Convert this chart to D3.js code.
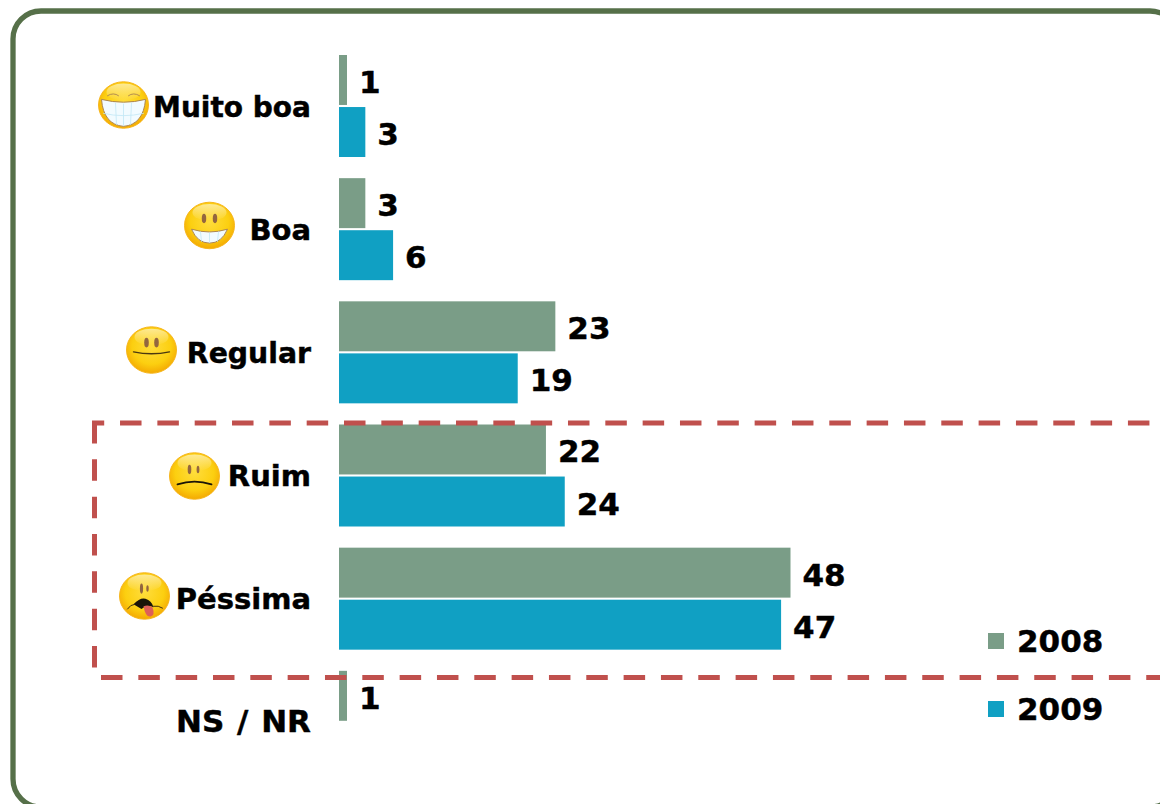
<!DOCTYPE html>
<html><head><meta charset="utf-8">
<script src="https://cdn.jsdelivr.net/npm/d3@7"></script>
<style>html,body{margin:0;padding:0;background:#fff;overflow:hidden}svg{display:block}text{font-family:"DejaVu Sans",sans-serif;font-weight:bold;fill:#000;stroke:#000;stroke-width:.45px}</style>
</head><body><div id="chart"></div>
<script>
const categories = ["Muito boa","Boa","Regular","Ruim","Péssima","NS / NR"];
const seriesNames = ["2008","2009"];
const values2008 = [0.85,2.8,23,22,48,0.85];
const values2009 = [2.8,5.75,19,24,47,null];
const labels2008 = [1,3,23,22,48,1];
const labels2009 = [3,6,19,24,47,null];
const faces = ["grin","smile","neutral","sad","awful",null];
const colors = {"2008":"#7a9d87","2009":"#10a0c3"};

const W=1160,H=804;
const svg=d3.select("#chart").append("svg").attr("width",W).attr("height",H);
const defs=svg.append("defs");
const g=defs.append("radialGradient").attr("id","face").attr("cx","50%").attr("cy","42%").attr("r","62%");
g.append("stop").attr("offset","0%").attr("stop-color","#ffdd3c");
g.append("stop").attr("offset","62%").attr("stop-color","#fccf10");
g.append("stop").attr("offset","100%").attr("stop-color","#f2a200");
const hl=defs.append("linearGradient").attr("id","hl").attr("x1",0).attr("y1",0).attr("x2",0).attr("y2",1);
hl.append("stop").attr("offset","0%").attr("stop-color","#fff").attr("stop-opacity",.55);
hl.append("stop").attr("offset","100%").attr("stop-color","#fff").attr("stop-opacity",0);

svg.append("rect").attr("x",13).attr("y",11).attr("width",1165).attr("height",796).attr("rx",28).attr("ry",28)
  .attr("fill","#fff").attr("stroke","#567049").attr("stroke-width",5.3);

const x=d3.scaleLinear().domain([0,48]).range([339,790.5]);
const y=d3.scaleBand().domain(categories).range([55,794]).paddingInner(0).paddingOuter(0);
const y1=d3.scaleBand().domain(seriesNames).range([0,102]).paddingInner(0.04);

const rows=categories.map((c,i)=>({c,i,s:[{k:"2008",v:values2008[i],l:labels2008[i]},{k:"2009",v:values2009[i],l:labels2009[i]}]}));
const row=svg.selectAll("g.row").data(rows).join("g").attr("class","row").attr("transform",d=>`translate(0,${y(d.c)})`);
row.selectAll("rect").data(d=>d.s.filter(e=>e.v!=null)).join("rect")
  .attr("x",x(0)).attr("y",e=>y1(e.k)).attr("width",e=>x(e.v)-x(0)).attr("height",y1.bandwidth()).attr("fill",e=>colors[e.k]);
row.selectAll("text.val").data(d=>d.s.filter(e=>e.v!=null)).join("text").attr("class","val")
  .attr("x",e=>x(e.v)+12).attr("y",e=>y1(e.k)+y1.bandwidth()/2+13).attr("font-size",31).text(e=>e.l);
const catFont={"Muito boa":28,"Regular":28.3,"NS / NR":31};
row.append("text").attr("class","cat").attr("x",311).attr("y",61.5).attr("text-anchor","end")
  .attr("font-size",d=>catFont[d.c]||29).attr("word-spacing",d=>d.c==="NS / NR"?2:0).text(d=>d.c);

function drawFace(sel,type){
  sel.append("circle").attr("r",25).attr("fill","url(#face)").attr("stroke","#f6b41a").attr("stroke-width",1);
  sel.append("ellipse").attr("cx",0).attr("cy",-14).attr("rx",17).attr("ry",9).attr("fill","url(#hl)");
  const eye=(ex,ey,rx,ry)=>sel.append("ellipse").attr("cx",ex).attr("cy",ey).attr("rx",rx).attr("ry",ry).attr("fill","#93663f");
  const teeth=(d)=>{sel.append("path").attr("d",d).attr("fill","#f2fbff").attr("stroke","#a9824f").attr("stroke-width",1);};
  const line=(d,w,c)=>sel.append("path").attr("d",d).attr("fill","none").attr("stroke",c||"#4a3810").attr("stroke-width",w).attr("stroke-linecap","round");
  if(type==="grin"){
    teeth("M-22,-6 Q0,0 22,-6 Q20,21 0,23 Q-20,21 -22,-6Z");
    line("M-8,-2 L-7,21 M8,-2 L7,21 M-20,9 Q0,14 20,9 M0,-1 L0,22",0.8,"#bfe6f5");
    line("M-16,-10 Q-10,-14 -5,-10 M5,-10 Q10,-14 16,-10",1,"#b08a50");
  } else if(type==="smile"){
    eye(-5.5,-7.5,2.2,5);eye(5.5,-7.5,2.2,5);
    teeth("M-18,4 Q0,10 18,4 Q12,19 0,19 Q-12,19 -18,4Z");
    line("M-9,7 L-8,17 M0,8 L0,18 M9,7 L8,17",0.8,"#bfe6f5");
  } else if(type==="neutral"){
    eye(-5,-8,2.3,5.2);eye(5,-8,2.3,5.2);
    line("M-18,2 Q0,6 18,2",1.4);
  } else if(type==="sad"){
    eye(-5,-7,1.8,5);eye(3.5,-7,1.4,4);
    line("M-17,9 Q0,3 17,9",1.8,"#1a1408");
  } else if(type==="awful"){
    eye(-3,-8,1.6,5.5);eye(3,-8,1.2,3.5);
    sel.append("path").attr("d","M-11,9 Q-4,1 1,3 Q7,5 9,12 Q2,9 -3,14 Z").attr("fill","#1a1408");
    sel.append("path").attr("d","M-1,11 Q4,9 8,12 Q11,21 6,22 Q1,23 -1,11Z").attr("fill","#de5f58");
    line("M-17,14 Q-14,9 -10,9 M9,11 Q14,10 18,13",1,"#3a2a10");
  }
}
const facePos={grin:[123.5,50],smile:[209.5,47.3],neutral:[151.5,48.7],sad:[194.5,51.5],awful:[144.5,48.3]};
row.filter(d=>faces[d.i]).append("g")
  .attr("transform",d=>`translate(${facePos[faces[d.i]].join(",")}) scale(1,.93)`)
  .each(function(d){drawFace(d3.select(this),faces[d.i]);});

// dashed highlight
const dash="21.5,15.83";
const box=svg.append("g").attr("fill","none").attr("stroke","#c0504d").attr("stroke-width",5).attr("stroke-dasharray",dash);
box.append("path").attr("d","M92,423 H1165").attr("stroke-dashoffset",9.3);
box.append("path").attr("d","M94.5,422 V672");
box.append("path").attr("d","M101,677.5 H1165");

// legend
const ly=d3.scalePoint().domain(seriesNames).range([641,709]);
const leg=svg.selectAll("g.leg").data(seriesNames).join("g").attr("class","leg").attr("transform",d=>`translate(988,${ly(d)})`);
leg.append("rect").attr("x",0).attr("y",-8).attr("width",16).attr("height",16).attr("fill",d=>colors[d]);
leg.append("text").attr("x",29).attr("y",11).attr("font-size",31).text(d=>d);
</script></body></html>
